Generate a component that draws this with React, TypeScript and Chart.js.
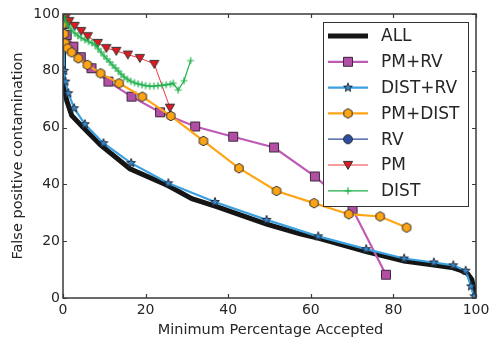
import React, { useEffect, useRef } from 'react';
import { Chart, registerables } from 'chart.js';

Chart.register(...registerables);

// ---------- data ----------
const tickValues = [0, 20, 40, 60, 80, 100];
const xTitle = 'Minimum Percentage Accepted';
const yTitle = 'False positive contamination';

const allX = [0, 0.05, 0.1, 0.2, 0.9, 2.1, 4.9, 9.0, 16.2, 25.5, 31.2, 37.2, 49.3, 57.4, 62.0, 73.4, 82.6, 89.8, 94.5, 96.5, 98.0, 99.0, 99.5, 99.8];
const allY = [100, 90, 80, 74.5, 69.5, 64.3, 60.0, 54.0, 45.5, 39.5, 35.0, 32.2, 26.0, 22.6, 21.0, 16.3, 13.0, 11.6, 10.6, 9.6, 8.5, 6.5, 3.0, 0];

const pmrvX = [0.1, 0.3, 0.9, 2.5, 4.3, 6.9, 11.0, 16.6, 23.5, 32.0, 41.2, 51.1, 61.0, 70.1, 78.2];
const pmrvY = [99, 96.5, 92.6, 88.5, 84.8, 80.9, 76.2, 70.9, 65.4, 60.4, 56.8, 53.0, 42.8, 31.3, 8.2];

const distrvX = [0, 0.1, 0.3, 0.6, 1.3, 2.7, 5.3, 9.8, 16.5, 25.5, 36.8, 49.3, 61.8, 73.4, 82.6, 89.8, 94.5, 97.5, 98.8, 99.6];
const distrvY = [100, 92, 80, 76.2, 72.1, 66.8, 61.2, 54.5, 47.5, 40.4, 33.8, 27.5, 21.7, 17.2, 13.9, 12.5, 11.5, 9.6, 4.1, 0.6];

const pmdistX = [0.05, 0.1, 0.3, 0.5, 1.1, 2.1, 3.7, 5.9, 9.1, 13.6, 19.2, 26.1, 34.0, 42.6, 51.7, 60.8, 69.2, 76.8, 83.2];
const pmdistY = [99, 96.5, 93, 89.7, 87.9, 86.5, 84.4, 82.1, 79.1, 75.6, 70.9, 64.1, 55.3, 45.7, 37.7, 33.4, 29.5, 28.7, 24.8];

const rvX = [0];
const rvY = [100];

const pmX = [0.1, 0.6, 1.5, 2.8, 4.4, 6.0, 8.4, 10.5, 12.9, 15.7, 18.6, 22.1, 25.9];
const pmY = [99.5, 98.7, 97.5, 95.8, 94.0, 92.2, 89.8, 88.0, 87.0, 85.7, 84.5, 82.4, 67.0];

const distX = [0.1, 0.4, 0.8, 1.3, 2.0, 2.8, 3.6, 4.4, 5.3, 6.2, 7.0, 7.8, 8.5, 9.2, 9.9, 10.6, 11.3, 12.0, 12.7, 13.4, 14.1, 14.8, 15.6, 16.4, 17.3, 18.2, 19.1, 20.0, 21.0, 22.0, 23.0, 24.0, 25.0, 26.0, 26.7, 27.9, 29.3, 30.9];
const distY = [99.5, 98.5, 97.0, 95.8, 94.5, 93.3, 92.4, 91.6, 90.9, 90.3, 89.8, 89.0, 87.8, 86.6, 85.3, 84.2, 83.1, 82.0, 81.0, 79.9, 78.8, 77.8, 77.0, 76.3, 75.8, 75.4, 75.1, 74.8, 74.6, 74.6, 74.8, 74.9, 75.1, 75.3, 75.6, 73.2, 76.5, 83.6];

const labels = ['ALL', 'PM+RV', 'DIST+RV', 'PM+DIST', 'RV', 'PM', 'DIST'];

// ---------- markers ----------
type Kind = 'none' | 'square' | 'star' | 'hexagon' | 'circle' | 'tridown' | 'plus';

function makeMarker(kind: Kind, fill: string, stroke: string): HTMLCanvasElement | false {
  if (kind === 'none') return false;
  const S = 14;
  const c = document.createElement('canvas');
  c.width = S;
  c.height = S;
  const ctx = c.getContext('2d')!;
  const m = S / 2;
  ctx.fillStyle = fill;
  ctx.strokeStyle = stroke;
  ctx.lineWidth = 1;
  ctx.beginPath();
  if (kind === 'square') {
    ctx.rect(m - 4.5, m - 4.5, 9, 9);
  } else if (kind === 'circle') {
    ctx.arc(m, m, 4.5, 0, Math.PI * 2);
  } else if (kind === 'hexagon') {
    for (let i = 0; i < 6; i++) {
      const a = -Math.PI / 2 + (i * Math.PI) / 3;
      const px = m + Math.cos(a) * 4.8;
      const py = m + Math.sin(a) * 4.8;
      if (i === 0) ctx.moveTo(px, py); else ctx.lineTo(px, py);
    }
    ctx.closePath();
  } else if (kind === 'star') {
    for (let i = 0; i < 10; i++) {
      const a = -Math.PI / 2 + (i * Math.PI) / 5;
      const r = i % 2 === 0 ? 4.6 : 1.9;
      const px = m + Math.cos(a) * r;
      const py = m + Math.sin(a) * r;
      if (i === 0) ctx.moveTo(px, py); else ctx.lineTo(px, py);
    }
    ctx.closePath();
  } else if (kind === 'tridown') {
    ctx.moveTo(m - 4.6, m - 3.6);
    ctx.lineTo(m + 4.6, m - 3.6);
    ctx.lineTo(m, m + 4.4);
    ctx.closePath();
  } else if (kind === 'plus') {
    ctx.strokeStyle = fill;
    ctx.lineWidth = 1.2;
    ctx.moveTo(m - 3.5, m);
    ctx.lineTo(m + 3.5, m);
    ctx.moveTo(m, m - 3.5);
    ctx.lineTo(m, m + 3.5);
    ctx.stroke();
    return c;
  }
  ctx.fill();
  ctx.stroke();
  return c;
}

const zip = (xs: number[], ys: number[]) => xs.map((x, i) => ({ x, y: ys[i] }));

export default function App() {
  const ref = useRef<HTMLCanvasElement | null>(null);

  useEffect(() => {
    if (!ref.current) return;
    const edge = '#333333';
    const styles = [
      { color: '#151515', width: 5, marker: makeMarker('none', '', '') },
      { color: '#bf5ab4', width: 2.2, marker: makeMarker('square', '#b24fa5', '#3a2a3a') },
      { color: '#3aa0e0', width: 2.2, marker: makeMarker('star', '#3a8ad0', '#1e2a3a') },
      { color: '#ffa514', width: 2.2, marker: makeMarker('hexagon', '#ffa514', edge) },
      { color: '#2d4e9e', width: 1.2, marker: makeMarker('circle', '#2d4e9e', edge) },
      { color: '#ec3a40', width: 1, marker: makeMarker('tridown', '#e01a20', edge) },
      { color: '#1fb04a', width: 1.2, marker: makeMarker('plus', '#1fb04a', '#1fb04a') },
    ];
    const series = [
      zip(allX, allY),
      zip(pmrvX, pmrvY),
      zip(distrvX, distrvY),
      zip(pmdistX, pmdistY),
      zip(rvX, rvY),
      zip(pmX, pmY),
      zip(distX, distY),
    ];

    const datasets = series.map((data, i) => ({
      label: labels[i],
      data,
      showLine: true,
      borderColor: styles[i].color,
      backgroundColor: styles[i].color,
      borderWidth: styles[i].width,
      pointStyle: styles[i].marker || 'circle',
      pointRadius: styles[i].marker ? 5 : 0,
      pointHoverRadius: styles[i].marker ? 5 : 0,
      tension: 0,
      clip: 0,
      order: 10 - i,
    }));

    const textColor = '#262626';

    const framePlugin = {
      id: 'frame',
      afterDatasetsDraw(chart: any) {
        const { ctx, chartArea: a, scales } = chart;
        ctx.save();
        ctx.strokeStyle = '#3a3a3a';
        ctx.lineWidth = 1.5;
        ctx.strokeRect(a.left, a.top, a.right - a.left, a.bottom - a.top);
        ctx.lineWidth = 1.2;
        ctx.beginPath();
        for (const v of tickValues) {
          const px = Math.round(scales.x.getPixelForValue(v)) + 0.5;
          ctx.moveTo(px, a.bottom);
          ctx.lineTo(px, a.bottom - 4);
          ctx.moveTo(px, a.top);
          ctx.lineTo(px, a.top + 4);
          const py = Math.round(scales.y.getPixelForValue(v)) + 0.5;
          ctx.moveTo(a.left, py);
          ctx.lineTo(a.left + 4, py);
          ctx.moveTo(a.right, py);
          ctx.lineTo(a.right - 4, py);
        }
        ctx.stroke();
        // axis titles
        ctx.fillStyle = textColor;
        ctx.font = '14.5px "DejaVu Sans"';
        ctx.textAlign = 'center';
        ctx.textBaseline = 'middle';
        ctx.fillText(xTitle, (a.left + a.right) / 2 + 1, 330);
        ctx.translate(18.5, (a.top + a.bottom) / 2);
        ctx.rotate(-Math.PI / 2);
        ctx.fillText(yTitle, 0, 0);
        ctx.restore();
      },
    };

    const legendPlugin = {
      id: 'boxLegend',
      afterDraw(chart: any) {
        const ctx = chart.ctx;
        ctx.save();
        const L = 323.5, T = 22.5, R = 468.5, B = 206.5;
        ctx.fillStyle = '#ffffff';
        ctx.fillRect(L, T, R - L, B - T);
        ctx.strokeStyle = '#333333';
        ctx.lineWidth = 1;
        ctx.strokeRect(L, T, R - L, B - T);
        ctx.font = '17px "DejaVu Sans"';
        ctx.textBaseline = 'middle';
        ctx.textAlign = 'left';
        labels.forEach((lab, i) => {
          const y = 36 + i * 25.8;
          const st = styles[i];
          ctx.strokeStyle = st.color;
          ctx.lineWidth = st.width;
          ctx.beginPath();
          ctx.moveTo(328, y);
          ctx.lineTo(368, y);
          ctx.stroke();
          if (st.marker) {
            const mk = st.marker as HTMLCanvasElement;
            ctx.drawImage(mk, 348 - mk.width / 2, y - mk.height / 2);
          }
          ctx.fillStyle = textColor;
          ctx.fillText(lab, 381, y + 1);
        });
        ctx.restore();
      },
    };

    const chart = new Chart(ref.current, {
      type: 'scatter',
      data: { datasets: datasets as any },
      options: {
        responsive: false,
        animation: false,
        events: [],
        layout: { padding: { left: 0, top: 14, right: 15, bottom: 0 } },
        plugins: { legend: { display: false }, tooltip: { enabled: false } },
        scales: {
          x: {
            type: 'linear',
            min: 0,
            max: 100,
            ticks: { stepSize: 20, color: textColor, font: { family: 'DejaVu Sans', size: 14 }, padding: 4 },
            grid: { display: false, drawTicks: false },
            border: { display: false },
            afterFit(s: any) {
              s.height = 45;
              s.paddingLeft = 0;
              s.paddingRight = 0;
            },
          },
          y: {
            type: 'linear',
            min: 0,
            max: 100,
            ticks: { stepSize: 20, color: textColor, font: { family: 'DejaVu Sans', size: 14 }, padding: 3 },
            grid: { display: false, drawTicks: false },
            border: { display: false },
            afterFit(s: any) {
              s.width = 63;
              s.paddingTop = 0;
              s.paddingBottom = 0;
            },
          },
        },
      } as any,
      plugins: [framePlugin, legendPlugin],
    });
    return () => chart.destroy();
  }, []);

  return (
    <div style={{ position: 'absolute', left: 0, top: 0, width: 491, height: 343, background: '#fff' }}>
      <canvas ref={ref} width={491} height={343} />
    </div>
  );
}
